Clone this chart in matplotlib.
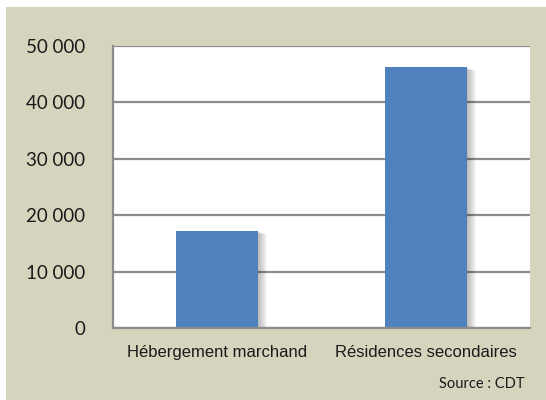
import matplotlib
matplotlib.use("Agg")
import matplotlib.pyplot as plt
from matplotlib.patches import Rectangle
from matplotlib.ticker import FuncFormatter

# Données
categories = ["Hébergement marchand", "Résidences secondaires"]
valeurs = [17200, 46200]
graduations = [0, 10000, 20000, 30000, 40000, 50000]

fig = plt.figure(figsize=(5.46, 4.0), dpi=100, facecolor="white")
# fond beige du cadre
fig.patches.append(Rectangle((6 / 546, 0), 1, 1 - 7 / 400, transform=fig.transFigure,
                             facecolor="#d7d4be", edgecolor="none", zorder=-5))

ax = fig.add_axes([113 / 546, 1 - 328 / 400, 417 / 546, 282 / 400])
ax.set_facecolor("white")

x = range(len(categories))
# ombre douce des barres (plusieurs couches translucides)
px = 2 / 417  # un pixel en unités de catégorie
for k in range(1, 10):
    ax.bar([p + k * px for p in x], [v - k * 60 for v in valeurs], width=0.395,
           color="black", alpha=0.03, zorder=2, linewidth=0)
ax.bar(x, valeurs, width=0.395, color="#4f81bd", zorder=3, linewidth=0)

ax.set_xlim(-0.5, 1.5)
ax.set_ylim(0, 50000)
ax.set_yticks(graduations)
ax.yaxis.set_major_formatter(FuncFormatter(lambda v, p: f"{int(v):,}".replace(",", " ")))
ax.set_xticks(list(x))
ax.set_xticklabels(categories, family=["Liberation Sans", "DejaVu Sans"], fontsize=12)
for lab in ax.get_yticklabels():
    lab.set_family(["Lato", "DejaVu Sans"])
    lab.set_fontsize(13.5)
ax.tick_params(axis="y", length=0, pad=20, colors="#1a1a1a")
ax.tick_params(axis="x", length=0, pad=12, colors="#1a1a1a")

ax.grid(axis="y", color="#8c8c8c", linewidth=1.6, zorder=1)
ax.set_axisbelow(True)
for s in ["top", "right"]:
    ax.spines[s].set_visible(False)
ax.spines["left"].set_color("#8c8c8c")
ax.spines["left"].set_linewidth(1.6)
ax.spines["bottom"].set_color("#8c8c8c")
ax.spines["bottom"].set_linewidth(1.6)
ax.spines["bottom"].set_zorder(4)

fig.text(525 / 546, 1 - 384 / 400, "Source : CDT", ha="right", va="center",
         fontsize=10.5, family=["Lato", "DejaVu Sans"], color="#1a1a1a")

fig.savefig("out.png", dpi=100, facecolor=fig.get_facecolor())
